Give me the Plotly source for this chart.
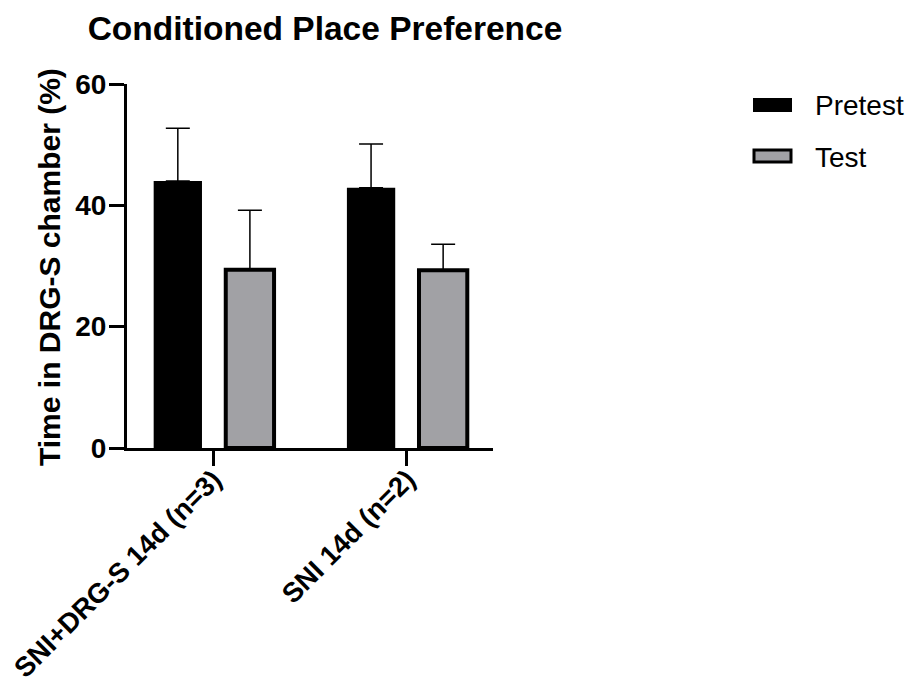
import plotly.graph_objects as go

categories = ["SNI+DRG-S 14d (n=3)", "SNI 14d (n=2)"]
pretest = [44.0, 42.9]
pretest_err = [8.7, 7.2]
test = [29.4, 29.3]
test_err = [9.8, 4.3]
y_ticks = [0, 20, 40, 60]

FONT = "Arial, Liberation Sans, sans-serif"
GRAY = "#a1a1a5"

# plot area in pixels
W, H = 909, 684
L, R, T, B = 127, 493, 84, 448

def px(x):
    return (x - L) / (R - L)

def py(y):
    return (B - y) / (B - T)

fig = go.Figure()
fig.add_trace(go.Bar(
    x=categories, y=pretest, name="Pretest",
    width=0.25, offset=-0.31,
    marker=dict(color="black", line=dict(color="black", width=0)),
    error_y=dict(type="data", array=pretest_err, arrayminus=[0, 0], symmetric=False,
                 color="black", thickness=1.5, width=12),
    showlegend=False,
))
fig.add_trace(go.Bar(
    x=categories, y=test, name="Test",
    width=0.25, offset=0.063,
    marker=dict(color=GRAY, line=dict(color="black", width=4)),
    error_y=dict(type="data", array=test_err, arrayminus=[0, 0], symmetric=False,
                 color="black", thickness=1.5, width=12),
    showlegend=False,
))

shapes = [
    dict(type="rect", xref="paper", yref="paper",
         x0=px(753), x1=px(792), y0=py(112), y1=py(98),
         fillcolor="black", line=dict(color="black", width=0)),
    dict(type="rect", xref="paper", yref="paper",
         x0=px(754), x1=px(791), y0=py(162), y1=py(150),
         fillcolor=GRAY, line=dict(color="black", width=3)),
]
annotations = [
    dict(text="Pretest", xref="paper", yref="paper", x=px(813), y=py(105),
         xanchor="left", yanchor="middle", showarrow=False,
         font=dict(family=FONT, size=28, color="black")),
    dict(text="Test", xref="paper", yref="paper", x=px(813), y=py(157),
         xanchor="left", yanchor="middle", showarrow=False,
         font=dict(family=FONT, size=28, color="black")),
    dict(text="Time in DRG-S chamber (%)", xref="paper", yref="paper",
         x=px(49), y=py(267), xanchor="center", yanchor="middle", textangle=-90,
         showarrow=False, font=dict(family=FONT, size=30, color="black", weight="bold")),
]
# category tick labels, rotated
for cat in categories:
    annotations.append(dict(
        text=cat, xref="x", yref="paper", x=cat, y=py(461), xshift=17,
        xanchor="right", yanchor="top", textangle=-45, showarrow=False,
        font=dict(family=FONT, size=27.5, color="black", weight="bold"),
    ))

fig.update_layout(
    width=W, height=H,
    margin=dict(l=L, r=W - R, t=T, b=H - B, pad=0, autoexpand=False),
    paper_bgcolor="white", plot_bgcolor="white",
    barmode="overlay",
    title=dict(text="Conditioned Place Preference", x=325 / W, xanchor="center",
               xref="container", yref="container", y=1 - 28 / H, yanchor="middle",
               font=dict(family=FONT, size=33.5, color="black", weight="bold")),
    shapes=shapes,
    annotations=annotations,
    xaxis=dict(
        type="category", range=[-0.448, 1.446], automargin=False,
        showline=True, linecolor="black", linewidth=3,
        ticks="outside", ticklen=15, tickwidth=3, tickcolor="black",
        showticklabels=False, showgrid=False, zeroline=False,
    ),
    yaxis=dict(
        range=[0, 60], tickvals=y_ticks, automargin=False,
        showline=True, linecolor="black", linewidth=3,
        ticks="outside", ticklen=15, tickwidth=3, tickcolor="black",
        ticklabelstandoff=-3, showgrid=False, zeroline=False,
        tickfont=dict(family=FONT, size=28, color="black", weight="bold"),
    ),
)

fig.write_html("out.html", config={"displayModeBar": False},
               post_script="document.body.style.margin='0';document.body.style.overflow='hidden';")
